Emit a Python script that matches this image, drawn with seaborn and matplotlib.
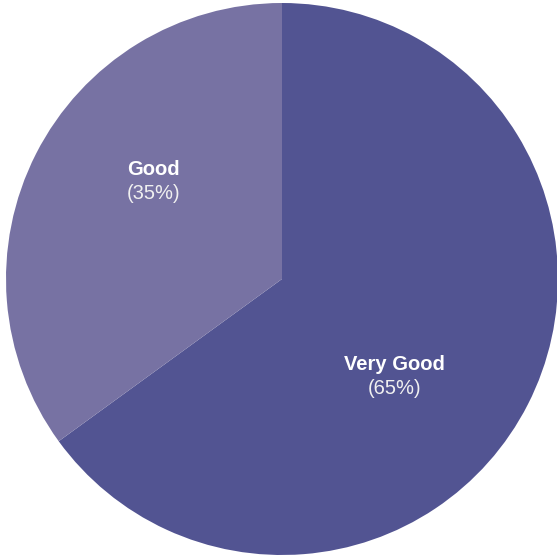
import matplotlib
matplotlib.use("Agg")
import matplotlib.pyplot as plt
import seaborn as sns

sns.set_theme(style="white")
plt.rcParams['font.family'] = ['Liberation Sans', 'DejaVu Sans']

categories = ["Very Good", "Good"]
values = [65, 35]
colors = ["#525492", "#7772a3"]
label_pos = [(0.409, -0.355), (-0.467, 0.355)]

fig = plt.figure(figsize=(5.57, 5.55), dpi=100)
ax = fig.add_axes([0, 0, 1, 1])
wedges, _ = ax.pie(values, colors=colors, startangle=90, counterclock=False,
                   radius=1.0, wedgeprops=dict(linewidth=0))
ax.set_xlim(-282/276, 275/276)
ax.set_ylim(-276/276, 279/276)
ax.set_aspect('auto')
ax.axis('off')

total = sum(values)
for cat, val, (x, y) in zip(categories, values, label_pos):
    ax.text(x, y + 0.0435, cat, ha='center', va='center', color='white',
            fontsize=14.5, fontweight='bold')
    ax.text(x, y - 0.0435, f"({val/total*100:.0f}%)", ha='center', va='center',
            color='#f0f0f0', fontsize=14.5)

fig.savefig("out.png", dpi=100, facecolor='white')
